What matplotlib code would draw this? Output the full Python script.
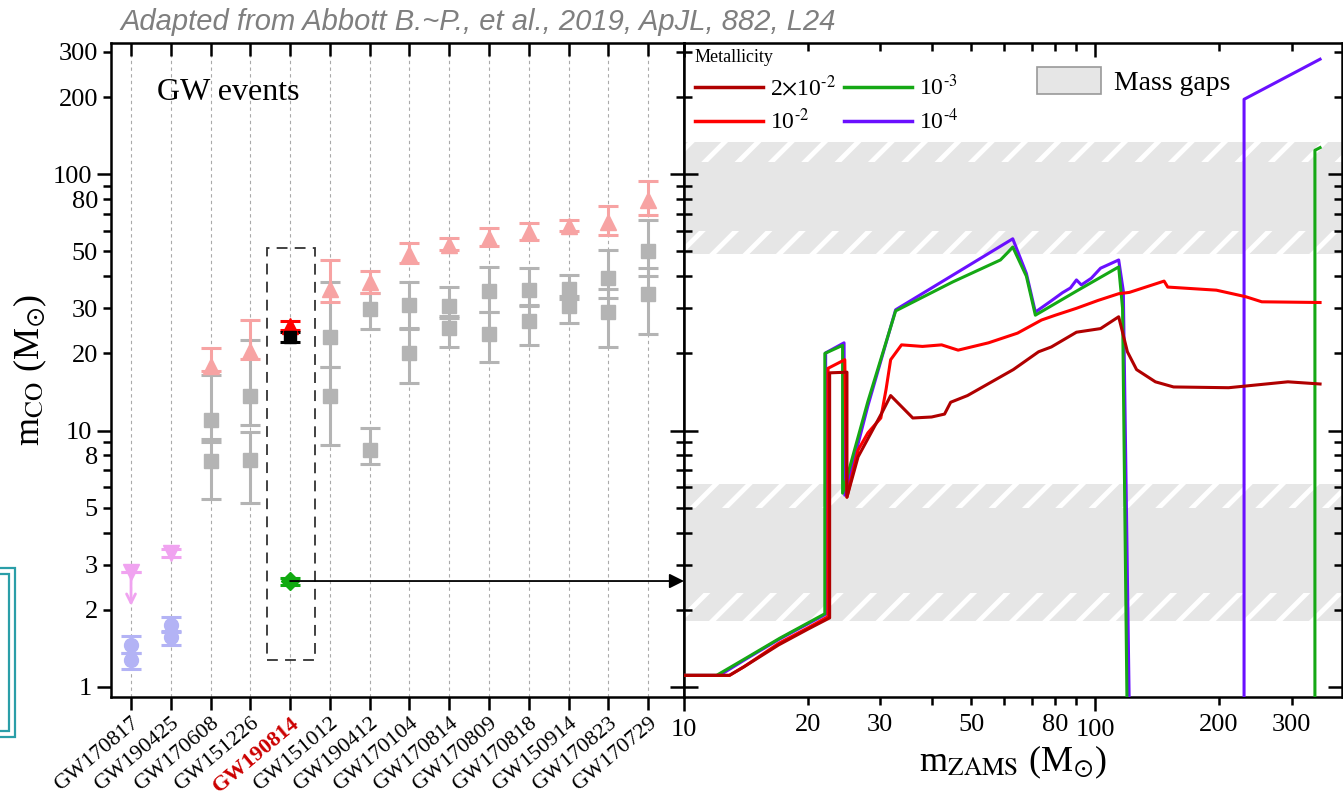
import numpy as np
import matplotlib
matplotlib.use('Agg')
import matplotlib.pyplot as plt
from matplotlib.ticker import LogLocator, FuncFormatter, NullFormatter
from matplotlib.patches import Rectangle, Patch
from matplotlib.lines import Line2D

plt.rcParams['font.family'] = ['Liberation Serif', 'DejaVu Serif']
plt.rcParams['mathtext.fontset'] = 'stix'
plt.rcParams['hatch.linewidth'] = 3.5

# ---------------- data: GW events (left panel) ----------------
events = ['GW170817', 'GW190425', 'GW170608', 'GW151226', 'GW190814',
          'GW151012', 'GW190412', 'GW170104', 'GW170814', 'GW170809',
          'GW170818', 'GW150914', 'GW170823', 'GW170729']

bbh_events = ['GW170608', 'GW151226', 'GW151012', 'GW190412', 'GW170104',
              'GW170814', 'GW170809', 'GW170818', 'GW150914', 'GW170823',
              'GW170729']
m1 = [11.0, 13.7, 23.2, 29.7, 30.8, 30.6, 35.0, 35.4, 35.6, 39.5, 50.2]
m1_lo = [9.3, 10.5, 17.7, 24.8, 25.2, 27.6, 29.1, 30.7, 32.5, 32.8, 40.0]
m1_hi = [16.5, 22.5, 38.1, 34.5, 38.1, 36.2, 43.3, 42.9, 40.3, 50.7, 66.4]
m2 = [7.6, 7.7, 13.6, 8.4, 20.0, 25.2, 23.8, 26.7, 30.6, 29.0, 34.0]
m2_lo = [5.4, 5.2, 8.8, 7.4, 15.4, 21.2, 18.6, 21.5, 26.2, 21.2, 23.9]
m2_hi = [9.0, 9.9, 17.7, 10.2, 24.9, 28.0, 28.9, 31.0, 33.6, 35.7, 43.1]
mf = [17.8, 20.5, 35.6, 38.0, 48.9, 53.2, 56.3, 59.4, 63.1, 65.4, 79.5]
mf_lo = [17.1, 19.0, 31.8, 34.4, 44.9, 50.8, 52.5, 55.6, 60.1, 58.0, 69.3]
mf_hi = [21.0, 26.9, 46.4, 42.0, 54.0, 56.4, 61.5, 64.3, 66.5, 75.5, 94.2]

# neutron-star events
ns_events = ['GW170817', 'GW170817', 'GW190425', 'GW190425']
ns_m = [1.46, 1.27, 1.74, 1.56]
ns_lo = [1.36, 1.18, 1.64, 1.46]
ns_hi = [1.58, 1.36, 1.87, 1.66]
ns_final_events = ['GW170817', 'GW190425']
ns_final = [2.8, 3.33]
ns_final_lo = [2.8, 3.2]
ns_final_hi = [2.8, 3.45]
ul_bottom = 2.02     # GW170817 upper-limit arrow tip

# GW190814
g14_final, g14_final_lo, g14_final_hi = 25.6, 24.6, 26.8
g14_m1, g14_m1_lo, g14_m1_hi = 23.2, 22.2, 24.3
g14_m2, g14_m2_lo, g14_m2_hi = 2.59, 2.50, 2.67

# ---------------- data: m_CO vs m_ZAMS (right panel) ----------------
z1_x = [10, 12.9, 14.0, 17.0, 20.0, 22.6, 22.6, 24.9, 24.9, 26.5, 28.5, 30.5,
        31.8, 36, 40, 43, 44.5, 48.9, 63.2, 72.8, 78.2, 90, 103, 114, 119.7,
        126, 140, 155, 211, 294, 352]
z1_y = [1.11, 1.11, 1.2, 1.46, 1.68, 1.86, 16.8, 16.9, 5.5, 7.9, 9.8, 12.0,
        13.7, 11.2, 11.3, 11.6, 12.9, 13.7, 17.3, 20.3, 21.2, 24.2, 25.0, 27.8,
        20.3, 17.3, 15.5, 14.8, 14.7, 15.5, 15.2]

z2_x = [10, 12.9, 14.0, 17.0, 20.0, 22.4, 22.4, 24.6, 24.9, 26.5, 28.0, 30.1,
        31.0, 31.8, 33.8, 38, 42.3, 46.4, 55, 64.7, 74, 80, 90, 101.6, 114,
        121, 147, 150, 197, 232, 254, 352]
z2_y = [1.11, 1.11, 1.2, 1.48, 1.7, 1.88, 17.5, 18.9, 5.5, 8.4, 9.8, 11.2,
        14.5, 18.9, 21.6, 21.3, 21.6, 20.6, 22.0, 24.0, 27.0, 28.2, 30.0, 32.2,
        34.2, 34.6, 38.3, 36.3, 35.3, 33.3, 31.8, 31.6]

z3_x = [10, 12.0, 14.2, 17.1, 22.0, 22.0, 24.3, 24.3, 28.0, 32.7, 45, 58.8,
        61.1, 63.0, 68, 71.5, 90, 114, 116.5, 119.5, np.nan, 342, 342, 352]
z3_y = [1.11, 1.11, 1.30, 1.55, 1.93, 20.0, 21.5, 5.7, 13.0, 29.3, 38.0, 46.3,
        49.3, 52.0, 40.0, 28.2, 35.0, 43.5, 30.0, 0.8, np.nan, 0.8, 124, 127]

z4_x = [10, 12.2, 14.2, 17.1, 22.1, 22.1, 24.5, 24.6, 28.0, 32.7, 63.0, 68,
        71.5, 78, 83.2, 87, 90, 92.5, 97.8, 103, 114, 117, 121, np.nan,
        230, 230, 352]
z4_y = [1.11, 1.11, 1.29, 1.54, 1.92, 20.1, 22.0, 5.6, 12.5, 29.6, 56.0, 41.0,
        29.0, 32.0, 34.5, 36.0, 38.7, 37.0, 39.3, 43.0, 46.3, 35.0, 0.8, np.nan,
        0.8, 196, 281]

# mass gaps: (low, high, hatched)
gaps = [(1.81, 2.33, True), (2.33, 4.99, False), (4.99, 6.19, True),
        (48.9, 60.1, True), (60.1, 111.6, False), (111.6, 133.6, True)]

# ---------------- figure ----------------
W, H = 1343, 799
fig = plt.figure(figsize=(W / 100, H / 100), dpi=100)
axL = fig.add_axes([111 / W, 1 - 697 / H, 573 / W, 654 / H])
axR = fig.add_axes([684 / W, 1 - 697 / H, 658 / W, 654 / H])

YLIM = (0.914, 325)
XL = (-0.503, 13.90)
yshow = {1, 2, 3, 5, 8, 10, 20, 30, 50, 80, 100, 200, 300}


def yfmt(v, pos):
    r = int(round(v))
    return f'{r}' if r in yshow and abs(v - r) < 1e-6 else ''


for ax in (axL, axR):
    ax.set_yscale('log')
    ax.set_ylim(*YLIM)
    for s in ax.spines.values():
        s.set_linewidth(1.8)

# ---- left panel ----
pos = {e: i for i, e in enumerate(events)}
axL.set_xlim(*XL)
for i in range(len(events)):
    axL.axvline(i, color='#aaaaaa', lw=0.8, ls=(0, (3, 3)), zorder=0)

gray, pink, blue, violet = '#b4b4b4', '#f7a3a3', '#b3b3f5', '#f0a3f0'
xb = np.array([pos[e] for e in bbh_events])


def ebar(ax, x, y, lo, hi, fmt, color, ms, **kw):
    y = np.asarray(y, float)
    err = [y - np.asarray(lo, float), np.asarray(hi, float) - y]
    ax.errorbar(x, y, yerr=err, fmt=fmt, ms=ms, color=color, ecolor=color,
                mec=color, elinewidth=2.2, capsize=7, capthick=2.2, zorder=3, **kw)


ebar(axL, xb, m1, m1_lo, m1_hi, 's', gray, 10)
ebar(axL, xb, m2, m2_lo, m2_hi, 's', gray, 10)
ebar(axL, xb, mf, mf_lo, mf_hi, '^', pink, 12)

xn = [pos[e] for e in ns_events]
ebar(axL, xn, ns_m, ns_lo, ns_hi, 'o', blue, 10)
xnf = [pos[e] for e in ns_final_events]
ebar(axL, xnf, ns_final, ns_final_lo, ns_final_hi, 'v', violet, 12)
axL.annotate('', xy=(pos['GW170817'], ul_bottom), xytext=(pos['GW170817'], ns_final[0]),
             arrowprops=dict(arrowstyle='->', color=violet, lw=2, mutation_scale=16),
             zorder=3)

x14 = pos['GW190814']
ebar(axL, [x14], [g14_final], [g14_final_lo], [g14_final_hi], '^', '#ff0000', 11)
ebar(axL, [x14], [g14_m1], [g14_m1_lo], [g14_m1_hi], 's', '#000000', 9)
ebar(axL, [x14], [g14_m2], [g14_m2_lo], [g14_m2_hi], 'D', '#11aa11', 9)

axL.add_patch(Rectangle((3.42, 1.27), 1.21, 51.5 - 1.27, fill=False,
                        ec='#333333', lw=1.3, ls=(0, (6, 4)), zorder=2))
axL.annotate('', xy=(XL[1], g14_m2), xytext=(x14, g14_m2),
             arrowprops=dict(arrowstyle='-|>', color='black', lw=1.3,
                             mutation_scale=22, shrinkA=0, shrinkB=0),
             annotation_clip=False, zorder=4)

axL.text(0.080, 0.925, 'GW events', transform=axL.transAxes, fontsize=23,
         ha='left', va='center')

axL.set_xticks(range(len(events)))
axL.set_xticklabels(events, rotation=40, ha='right', rotation_mode='anchor',
                    fontsize=16)
for lab in axL.get_xticklabels():
    if lab.get_text() == 'GW190814':
        lab.set_color('#cc0000')
        lab.set_fontweight('bold')
axL.tick_params(axis='x', direction='out', length=9, width=1.8, pad=3)

axL.yaxis.set_major_locator(LogLocator(base=10, subs=(1.0,)))
axL.yaxis.set_minor_locator(LogLocator(base=10, subs=np.arange(2, 10)))
axL.yaxis.set_major_formatter(FuncFormatter(yfmt))
axL.yaxis.set_minor_formatter(FuncFormatter(yfmt))
axL.tick_params(axis='y', which='major', direction='out', length=10, width=1.8,
                labelsize=19)
axL.tick_params(axis='y', which='minor', direction='out', length=6, width=1.8,
                labelsize=19)
axL.set_ylabel(r'm$_{\mathrm{CO}}$ (M$_{\odot}$)', fontsize=26)
axL.yaxis.set_label_coords(-0.108, 0.5)

topL = axL.secondary_xaxis('top')
topL.set_xticks(range(len(events)))
topL.set_xticklabels([])
topL.tick_params(direction='in', length=9, width=1.8)
rightL = axL.secondary_yaxis('right')
rightL.yaxis.set_major_locator(LogLocator(base=10, subs=(1.0,)))
rightL.yaxis.set_minor_locator(LogLocator(base=10, subs=np.arange(2, 10)))
rightL.yaxis.set_major_formatter(NullFormatter())
rightL.yaxis.set_minor_formatter(NullFormatter())
rightL.tick_params(which='major', direction='in', length=10, width=1.8)
rightL.tick_params(which='minor', direction='in', length=6, width=1.8)

# ---- right panel ----
axR.set_xscale('log')
axR.set_xlim(10, 398)
for lo, hi, hatched in gaps:
    axR.axhspan(lo, hi, facecolor='#e6e6e6', edgecolor='white',
                hatch='/' if hatched else None, lw=0, zorder=0)

colors = {'2e-2': '#b00000', '1e-2': '#ff0000', '1e-3': '#15a815', '1e-4': '#6a10ff'}
axR.plot(z4_x, z4_y, color=colors['1e-4'], lw=2.2, zorder=3)
axR.plot(z3_x, z3_y, color=colors['1e-3'], lw=2.2, zorder=4)
axR.plot(z2_x, z2_y, color=colors['1e-2'], lw=2.2, zorder=5)
axR.plot(z1_x, z1_y, color=colors['2e-2'], lw=2.2, zorder=6)

xshow = {10, 20, 30, 50, 80, 100, 200, 300}


def xfmt(v, pos):
    r = int(round(v))
    return f'{r}' if r in xshow and abs(v - r) < 1e-6 else ''


axR.xaxis.set_major_locator(LogLocator(base=10, subs=(1.0,)))
axR.xaxis.set_minor_locator(LogLocator(base=10, subs=np.arange(2, 10)))
axR.xaxis.set_major_formatter(FuncFormatter(xfmt))
axR.xaxis.set_minor_formatter(FuncFormatter(xfmt))
axR.tick_params(axis='x', which='major', direction='out', length=10, width=1.8,
                labelsize=19, pad=6)
axR.tick_params(axis='x', which='minor', direction='out', length=6, width=1.8,
                labelsize=19, pad=6)
axR.yaxis.set_major_locator(LogLocator(base=10, subs=(1.0,)))
axR.yaxis.set_minor_locator(LogLocator(base=10, subs=np.arange(2, 10)))
axR.yaxis.set_major_formatter(NullFormatter())
axR.yaxis.set_minor_formatter(NullFormatter())
axR.tick_params(axis='y', which='major', direction='in', length=10, width=1.8,
                left=True, right=True, labelleft=False)
axR.tick_params(axis='y', which='minor', direction='in', length=6, width=1.8,
                left=True, right=True, labelleft=False)
topR = axR.secondary_xaxis('top')
topR.xaxis.set_major_locator(LogLocator(base=10, subs=(1.0,)))
topR.xaxis.set_minor_locator(LogLocator(base=10, subs=np.arange(2, 10)))
topR.xaxis.set_major_formatter(NullFormatter())
topR.xaxis.set_minor_formatter(NullFormatter())
topR.tick_params(which='major', direction='in', length=10, width=1.8)
topR.tick_params(which='minor', direction='in', length=6, width=1.8)
axR.set_xlabel(r'm$_{\mathrm{ZAMS}}$ (M$_{\odot}$)', fontsize=26, labelpad=2)

handles = [Line2D([], [], color=colors[k], lw=2.5) for k in ['2e-2', '1e-2', '1e-3', '1e-4']]
labels = [r'2$\times$10$^{\text{-}2}$', r'10$^{\text{-}2}$', r'10$^{\text{-}3}$',
          r'10$^{\text{-}4}$']
leg = axR.legend(handles, labels, title='Metallicity', ncol=2, loc='upper left',
                 bbox_to_anchor=(-0.005, 1.012), frameon=False, fontsize=17,
                 title_fontsize=13, handlelength=2.9, handletextpad=0.3,
                 columnspacing=0.3, labelspacing=0.35, alignment='left',
                 borderaxespad=0.2)
axR.add_artist(leg)
axR.legend([Patch(facecolor='#e6e6e6', edgecolor='#999999', lw=1.2)], ['Mass gaps'],
           loc='upper left', bbox_to_anchor=(0.499, 1.002), frameon=False,
           fontsize=20, handlelength=2.3, handleheight=1.15, handletextpad=0.45)

# title and side box
fig.text(120 / W, 1 - 22 / H, 'Adapted from Abbott B.~P., et al., 2019, ApJL, 882, L24',
         fontsize=21, style='italic', color='#7f7f7f', family='Liberation Sans',
         ha='left', va='center')
for x0, x1, y0, y1 in [(-10, 15, 568, 737), (-10, 9, 574, 731)]:
    fig.patches.append(Rectangle((x0 / W, 1 - y1 / H), (x1 - x0) / W, (y1 - y0) / H,
                                 transform=fig.transFigure, fill=False,
                                 ec='#2a9ea8', lw=1.6))

fig.savefig('out.png', dpi=100)
